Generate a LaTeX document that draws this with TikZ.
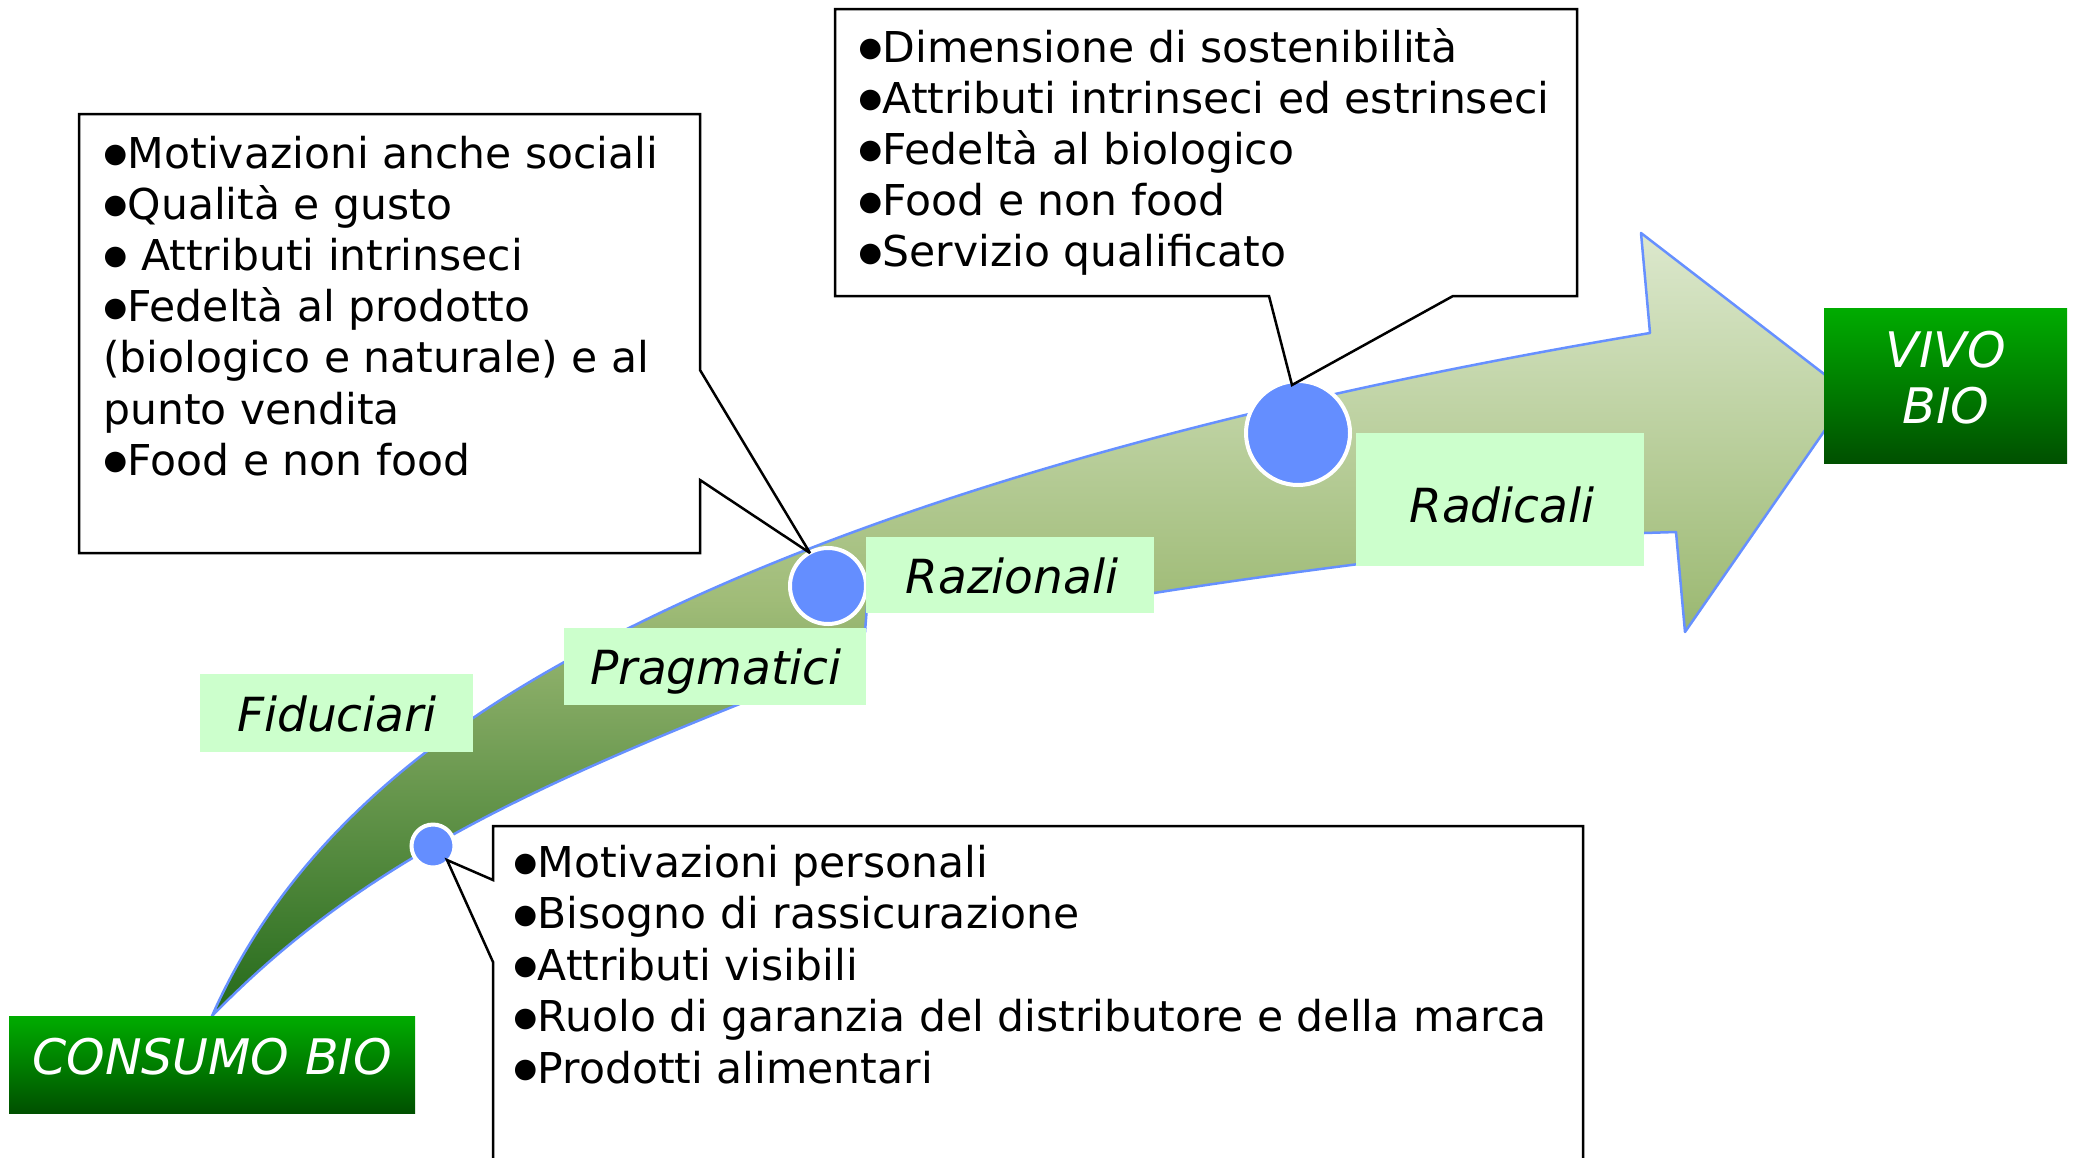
\documentclass[tikz,border=0pt]{standalone}
\usepackage{fontspec}
\setmainfont{DejaVu Sans}[ItalicFont={DejaVu Sans Oblique}]
\definecolor{adark}{RGB}{36,106,26}
\definecolor{amid}{RGB}{160,188,120}
\definecolor{alight}{RGB}{220,232,205}
\definecolor{aline}{RGB}{102,144,255}
\definecolor{dotblue}{RGB}{100,142,255}
\definecolor{lblgreen}{RGB}{204,255,204}
\definecolor{gtop}{RGB}{0,172,0}
\definecolor{gbot}{RGB}{0,80,0}
\pgfdeclareverticalshading{arrowshade}{100bp}{color(0bp)=(adark); color(25bp)=(adark); color(51.6bp)=(amid); color(75bp)=(alight); color(100bp)=(alight)}
\newcommand\bul{\makebox[24.5pt][c]{\raisebox{5.5pt}{\fontsize{27}{27}\selectfont ●}}}
\begin{document}
\begin{tikzpicture}[x=1pt,y=-1pt,
  callout/.style={draw=black, line width=2.5pt, fill=white, line join=miter, miter limit=3},
  body/.style={anchor=base west, inner sep=0pt, font=\fontsize{42.5}{50}\selectfont},
  lblbox/.style={fill=lblgreen, inner sep=0pt, anchor=north west},
  lbltext/.style={anchor=base, inner sep=0pt, font=\fontsize{47}{54}\selectfont\itshape},
  endbox/.style={top color=gtop, bottom color=gbot, inner sep=0pt, anchor=north west},
  endtext/.style={anchor=base, inner sep=0pt, text=white, font=\fontsize{49}{56}\selectfont\itshape},
  dot/.style={circle, fill=dotblue, draw=white, line width=4pt, inner sep=0pt}]
\useasboundingbox (0,0) rectangle (2075,1157);
\clip (0,0) rectangle (2075,1157);

% curved arrow
\shadedraw[shading=arrowshade, draw=aline, line width=2.5pt, line join=round]
  (212,1016) .. controls (293,833) and (450,717) .. (629,628)
  .. controls (897,494) and (1256,399) .. (1650,333)
  -- (1641,233) -- (1850,394) -- (1685,632) -- (1676,532) -- (1644,533)
  .. controls (1500,545) and (1300,570) .. (1154,593)
  -- (867,606) -- (865,632) -- (742,703)
  .. controls (508,797) and (351,873) .. (212,1016)
  -- cycle;

% end boxes
\node[endbox, minimum width=406pt, minimum height=97pt] (cons) at (9,1016) {};
\node[endtext] (consT) at (212,1074) {CONSUMO BIO};
\node[endbox, minimum width=243pt, minimum height=155pt] (vivo) at (1824,308) {};
\node[endtext] (vivoT1) at (1946,367) {VIVO};
\node[endtext] (vivoT2) at (1946,423) {BIO};

% dots
\node[dot, minimum size=43pt] (c1) at (433,846) {};
\node[dot, minimum size=76pt] (c2) at (828,586) {};
\node[dot, minimum size=104pt] (c3) at (1298,433) {};

% label boxes
\node[lblbox, minimum width=273pt, minimum height=78pt] (fidB) at (200,674) {};
\node[lbltext] (fidT) at (337,731) {Fiduciari};
\node[lblbox, minimum width=302pt, minimum height=77pt] (praB) at (564,628) {};
\node[lbltext] (praT) at (716,684) {Pragmatici};
\node[lblbox, minimum width=288pt, minimum height=76pt] (razB) at (866,537) {};
\node[lbltext] (razT) at (1012,593) {Razionali};
\node[lblbox, minimum width=288pt, minimum height=133pt] (radB) at (1356,433) {};
\node[lbltext] (radT) at (1502,522) {Radicali};

% callout tips
\coordinate (t1) at (447,860);
\coordinate (t2) at (810,553);
\coordinate (t3) at (1292,385);

% callouts
\draw[callout] (79,114) -- (700,114) -- (700,370) -- (t2) -- (700,480) -- (700,553) -- (79,553) -- cycle;
\draw[callout] (835,9) -- (1577,9) -- (1577,296) -- (1453,296) -- (t3) -- (1269,296) -- (835,296) -- cycle;
\draw[callout] (493,880) -- (493,826) -- (1583,826) -- (1583,1200) -- (493,1200) -- (493,962) -- (t1) -- cycle;

% texts
\foreach \t [count=\i] in {{\bul Motivazioni anche sociali},{\bul Qualità e gusto},{\bul{} Attributi intrinseci},{\bul Fedeltà al prodotto},{(biologico e naturale) e al},{punto vendita},{\bul Food e non food}}
  \node[body] (lt\i) at (103,{168+51.2*(\i-1)}) {\t};
\foreach \t [count=\i] in {{\bul Dimensione di sostenibilità},{\bul Attributi intrinseci ed estrinseci},{\bul Fedeltà al biologico},{\bul Food e non food},{\bul Servizio qualificato}}
  \node[body] (tt\i) at (858,{62+51.2*(\i-1)}) {\t};
\foreach \t [count=\i] in {{\bul Motivazioni personali},{\bul Bisogno di rassicurazione},{\bul Attributi visibili},{\bul Ruolo di garanzia del distributore e della marca},{\bul Prodotti alimentari}}
  \node[body] (bt\i) at (513,{877+51.5*(\i-1)}) {\t};
\end{tikzpicture}
\end{document}
